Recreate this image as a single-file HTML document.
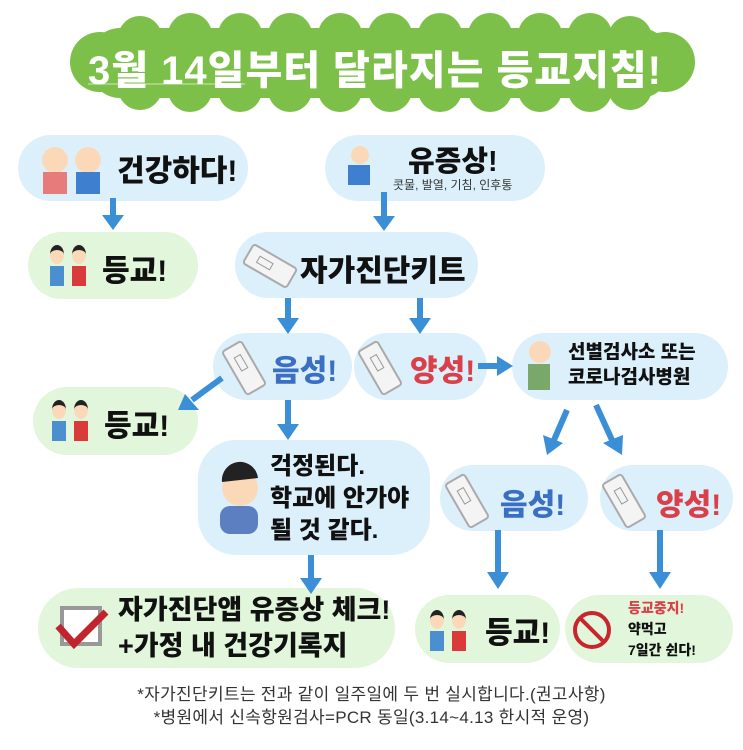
<!DOCTYPE html>
<html><head><meta charset="utf-8"><style>
body{margin:0;width:743px;height:750px;background:#fff;position:relative;overflow:hidden;font-family:"Liberation Sans","Noto Sans CJK KR",sans-serif;}
.b{position:absolute;border-radius:34px;background:#dcf0fb;}
.g{background:#e1f6da;}
.t{position:absolute;font-weight:900;color:#111;white-space:nowrap;letter-spacing:0px;}
.kit{position:absolute;width:20px;height:48px;border:2px solid #aaa;border-radius:4px;background:#f4f4f4;transform:rotate(-30deg);}
.kit:after{content:"";position:absolute;left:6px;top:10px;width:6px;height:14px;border:1px solid #999;}
.kid{position:absolute;width:14px;height:14px;border-radius:50%;background:#fbd9b8;border-top:5px solid #222;}
.kid b{position:absolute;top:16px;left:0;width:14px;height:20px;background:#4b8fd0;}
</style></head><body>
<svg style="position:absolute;left:0;top:0" width="743" height="750">
<g fill="#7cc04a">
<rect x="90" y="28" width="580" height="70" rx="30"/>
<circle cx="100" cy="62" r="30"/><circle cx="665" cy="62" r="30"/>
<circle cx="140" cy="38" r="22"/><circle cx="190" cy="35" r="22"/><circle cx="240" cy="35" r="22"/><circle cx="290" cy="35" r="22"/><circle cx="340" cy="35" r="22"/><circle cx="390" cy="35" r="22"/><circle cx="440" cy="35" r="22"/><circle cx="490" cy="35" r="22"/><circle cx="540" cy="35" r="22"/><circle cx="590" cy="35" r="22"/><circle cx="630" cy="38" r="22"/>
<circle cx="140" cy="88" r="22"/><circle cx="190" cy="90" r="22"/><circle cx="240" cy="90" r="22"/><circle cx="290" cy="90" r="22"/><circle cx="340" cy="90" r="22"/><circle cx="390" cy="90" r="22"/><circle cx="440" cy="90" r="22"/><circle cx="490" cy="90" r="22"/><circle cx="540" cy="90" r="22"/><circle cx="590" cy="90" r="22"/><circle cx="630" cy="88" r="22"/>
</g>
<line x1="88" y1="84" x2="245" y2="84" stroke="#cfe8b8" stroke-width="1"/>
</svg>
<div class="t" style="left:88px;top:38px;font-size:40px;color:#fff;letter-spacing:1px">3월 14일부터 달라지는 등교지침!</div>

<div class="b" style="left:18px;top:135px;width:230px;height:66px"></div>
<div class="b" style="left:325px;top:135px;width:220px;height:66px"></div>
<div class="b g" style="left:28px;top:232px;width:170px;height:67px"></div>
<div class="b" style="left:235px;top:232px;width:243px;height:66px"></div>
<div class="b" style="left:213px;top:333px;width:139px;height:67px"></div>
<div class="b" style="left:354px;top:333px;width:133px;height:67px"></div>
<div class="b" style="left:512px;top:333px;width:216px;height:67px"></div>
<div class="b g" style="left:33px;top:387px;width:165px;height:68px"></div>
<div class="b" style="left:198px;top:440px;width:232px;height:115px;border-radius:38px"></div>
<div class="b" style="left:440px;top:465px;width:148px;height:66px"></div>
<div class="b" style="left:600px;top:465px;width:133px;height:66px"></div>
<div class="b g" style="left:38px;top:588px;width:357px;height:80px;border-radius:40px"></div>
<div class="b g" style="left:415px;top:595px;width:145px;height:68px"></div>
<div class="b g" style="left:565px;top:595px;width:168px;height:68px"></div>

<svg style="position:absolute;left:0;top:0" width="743" height="750">
<g stroke="#3b8fd6" stroke-width="6" fill="#3b8fd6">
<line x1="113" y1="198" x2="113" y2="218"/><polygon points="102,215 124,215 113,230" stroke="none"/>
<line x1="384" y1="192" x2="384" y2="220"/><polygon points="373,216 395,216 384,231" stroke="none"/>
<line x1="288" y1="298" x2="288" y2="322"/><polygon points="277,318 299,318 288,334" stroke="none"/>
<line x1="420" y1="298" x2="420" y2="322"/><polygon points="409,318 431,318 420,334" stroke="none"/>
<line x1="478" y1="366" x2="500" y2="366"/><polygon points="497,356 497,376 513,366" stroke="none"/>
<line x1="222" y1="378" x2="192" y2="400"/><polygon points="185,394 199,410 178,410" stroke="none"/>
<line x1="288" y1="400" x2="288" y2="428"/><polygon points="277,424 299,424 288,440" stroke="none"/>
<line x1="567" y1="410" x2="554" y2="440"/><polygon points="543,435 563,443 547,455" stroke="none"/>
<line x1="596" y1="405" x2="612" y2="440"/><polygon points="603,443 623,435 622,455" stroke="none"/>
<line x1="311" y1="555" x2="311" y2="582"/><polygon points="300,578 322,578 311,594" stroke="none"/>
<line x1="498" y1="530" x2="498" y2="576"/><polygon points="487,572 509,572 498,589" stroke="none"/>
<line x1="660" y1="530" x2="660" y2="576"/><polygon points="649,572 671,572 660,589" stroke="none"/>
</g>
<rect x="62" y="608" width="38" height="36" fill="#fff" stroke="#999" stroke-width="4"/>
<polyline points="58,626 74,644 106,612" fill="none" stroke="#c0252e" stroke-width="7"/>
<circle cx="592" cy="630" r="17" fill="none" stroke="#c8262e" stroke-width="4"/>
<line x1="580" y1="618" x2="604" y2="642" stroke="#c8262e" stroke-width="4"/>
<circle cx="55" cy="160" r="13" fill="#fbd9b8"/><rect x="43" y="172" width="24" height="22" fill="#e77a7a"/>
<circle cx="88" cy="160" r="13" fill="#fbd9b8"/><rect x="76" y="172" width="24" height="22" fill="#3f7fcf"/>
<circle cx="360" cy="155" r="9" fill="#fbd9b8"/><rect x="348" y="165" width="22" height="20" fill="#3f7fcf"/>
<circle cx="240" cy="488" r="18" fill="#fbd9b8"/><path d="M222,482 a18,18 0 0 1 36,-4 z" fill="#222"/><rect x="220" y="506" width="38" height="28" rx="10" fill="#5b7fc0"/>
<circle cx="540" cy="352" r="11" fill="#fbd9b8"/><rect x="528" y="364" width="22" height="26" fill="#7aa86a"/>
</svg>
<div class="kid" style="left:50px;top:245px"><b></b></div><div class="kid" style="left:72px;top:245px"><b style="background:#d93a3a"></b></div>
<div class="kid" style="left:52px;top:400px"><b></b></div><div class="kid" style="left:74px;top:400px"><b style="background:#d93a3a"></b></div>
<div class="kid" style="left:430px;top:610px"><b></b></div><div class="kid" style="left:452px;top:610px"><b style="background:#d93a3a"></b></div>

<div class="kit" style="left:258px;top:240px;transform:rotate(-60deg)"></div>
<div class="kit" style="left:232px;top:342px"></div>
<div class="kit" style="left:368px;top:342px"></div>
<div class="kit" style="left:455px;top:475px"></div>
<div class="kit" style="left:612px;top:475px"></div>

<div class="t" style="left:117px;top:146px;font-size:30px">건강하다!</div>
<div class="t" style="left:408px;top:138px;font-size:29px">유증상!</div>
<div class="t" style="left:393px;top:176px;font-size:12px;font-weight:400;color:#333;letter-spacing:0">콧물, 발열, 기침, 인후통</div>
<div class="t" style="left:102px;top:246px;font-size:30px">등교!</div>
<div class="t" style="left:300px;top:246px;font-size:30px">자가진단키트</div>
<div class="t" style="left:272px;top:346px;font-size:30px;color:#3a6fc4">음성!</div>
<div class="t" style="left:410px;top:346px;font-size:30px;color:#d9404a">양성!</div>
<div class="t" style="left:568px;top:340px;font-size:19px;line-height:25px">선별검사소 또는<br>코로나검사병원</div>
<div class="t" style="left:104px;top:401px;font-size:30px">등교!</div>
<div class="t" style="left:270px;top:451px;font-size:24px;line-height:32px">걱정된다.<br>학교에 안가야<br>될 것 같다.</div>
<div class="t" style="left:500px;top:480px;font-size:30px;color:#3a6fc4">음성!</div>
<div class="t" style="left:656px;top:480px;font-size:30px;color:#d9404a">양성!</div>
<div class="t" style="left:118px;top:592px;font-size:27px;line-height:36px">자가진단앱 유증상 체크!<br>+가정 내 건강기록지</div>
<div class="t" style="left:485px;top:608px;font-size:30px">등교!</div>
<div class="t" style="left:628px;top:598px;font-size:14px;line-height:21px;color:#d9404a">등교중지!</div>
<div class="t" style="left:628px;top:619px;font-size:14px;line-height:21px">약먹고<br>7일간 쉰다!</div>

<div class="t" style="left:0;width:743px;text-align:center;top:683px;font-size:17px;font-weight:400;color:#333;letter-spacing:0.3px;line-height:23px">*자가진단키트는 전과 같이 일주일에 두 번 실시합니다.(권고사항)<br>*병원에서 신속항원검사=PCR 동일(3.14~4.13 한시적 운영)</div>
</body></html>
